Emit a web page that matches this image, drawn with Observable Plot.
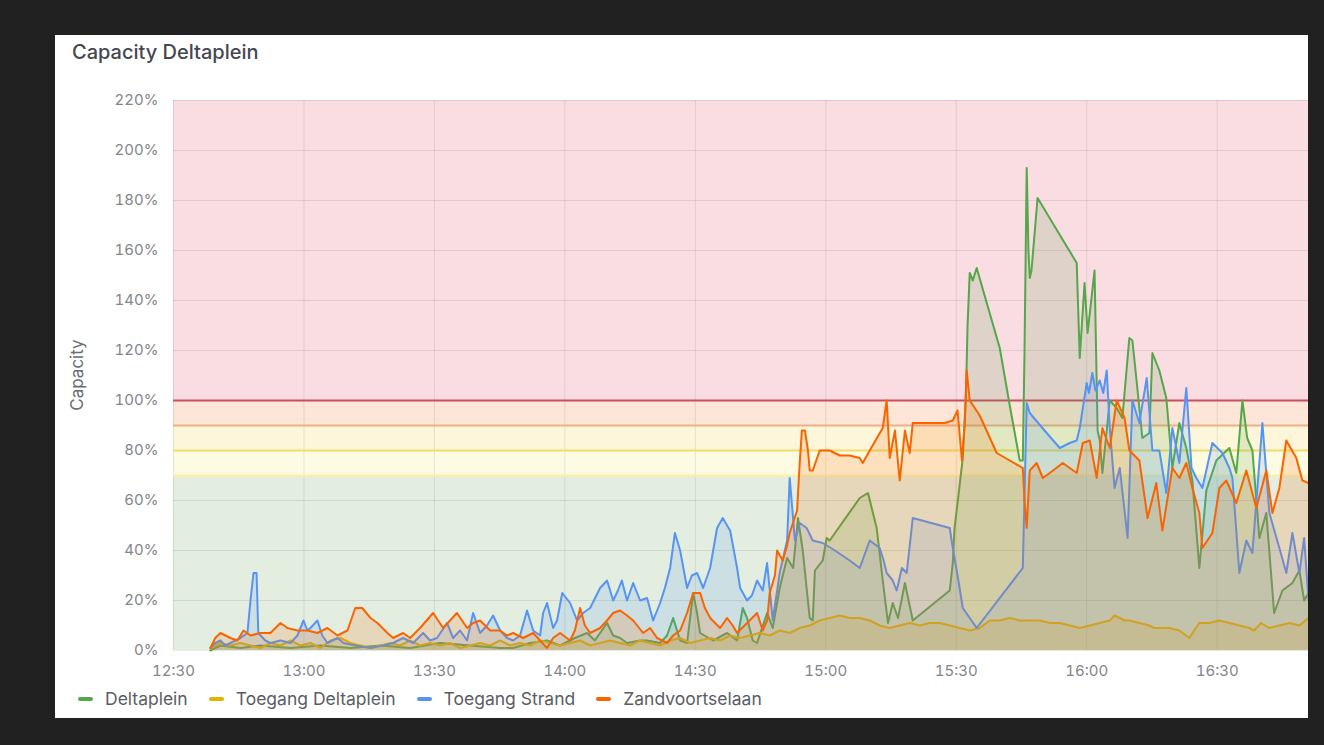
<!DOCTYPE html>
<html>
<head>
<meta charset="utf-8">
<script src="https://cdn.jsdelivr.net/npm/d3@7"></script>
<script src="https://cdn.jsdelivr.net/npm/@observablehq/plot@0.6"></script>
<style>
  html, body { margin: 0; padding: 0; width: 1324px; height: 745px; overflow: hidden; background: #212121; font-family: Inter, "Open Sans", sans-serif; }
  #panel { position: absolute; left: 55px; top: 35px; width: 1253px; height: 683px; background: #ffffff; overflow: hidden; }
  #title { position: absolute; left: 17px; top: 7px; font-size: 20px; line-height: 1; font-weight: 500; color: #45484e; white-space: nowrap; }
  #chart { position: absolute; left: 0; top: 45px; }
  #ylabel { position: absolute; left: 27px; top: 365px; width: 100px; text-align: center; font-size: 17px; line-height: 20px; color: #6b6e74; transform: rotate(-90deg); }
  #legend { position: absolute; left: 23px; top: 653px; display: flex; align-items: center; font-size: 17.5px; color: #5a5d63; white-space: nowrap; }
  .item { display: flex; align-items: center; margin-right: 21px; }
  .sw { width: 15px; height: 4px; border-radius: 2px; margin-right: 12px; }
</style>
</head>
<body>
<div id="panel">
  <div id="title">Capacity Deltaplein</div>
  <div id="chart"></div>
  <div id="legend"></div>
</div>
<div id="ylabel">Capacity</div>
<script>
// ---- data: [minutes after 12:30, capacity %] ----
const seriesNames = ["Deltaplein", "Toegang Deltaplein", "Toegang Strand", "Zandvoortselaan"];
const seriesColors = ["#56A64B", "#E0B400", "#5794F2", "#FA6400"];

const deltaplein = [[8.5,0],[10.8,2],[15.4,1],[20.0,2],[26.9,1],[33.8,2],[40.7,1],[47.6,2],[54.4,1],[61.3,3],[68.2,2],[75.1,1],[78.1,1],[82.0,3],[85.9,4],[88.9,2],[92.3,5],[95.1,7],[96.9,4],[99.7,11],[101.1,6],[102.7,5],[104.3,3],[107.3,4],[108.9,4],[111.9,3],[113.5,6],[114.9,13],[116.5,4],[118.1,3],[119.5,23],[120.4,15],[121.1,7],[124.1,4],[127.3,7],[129.6,4],[130.9,17],[131.9,13],[133.2,4],[134.2,3],[136.5,15],[137.8,9],[139.4,25],[141.1,37],[142.5,33],[143.6,53],[144.7,40],[146.3,13],[147.0,12],[147.5,32],[149.3,36],[150.2,45],[150.9,44],[157.8,61],[159.7,63],[161.7,49],[163.1,28],[164.3,11],[165.4,19],[166.6,13],[168.2,27],[170.0,12],[178.5,24],[179.2,35],[179.6,49],[180.3,59],[181.5,77],[182.2,100],[182.6,130],[183.1,151],[183.8,148],[184.7,153],[190.0,121],[192.3,98],[194.6,76],[195.3,76],[195.7,120],[196.2,193],[196.6,160],[196.9,149],[197.3,152],[198.7,181],[207.7,155],[208.4,117],[209.5,147],[210.2,127],[211.8,152],[212.5,88],[213.0,84],[213.6,71],[215.3,100],[216.9,97],[218.2,93],[219.8,125],[220.5,124],[221.4,109],[222.8,85],[224.4,87],[225.1,119],[226.7,112],[228.3,101],[229.7,73],[231.3,91],[232.9,81],[234.3,68],[235.9,33],[237.5,64],[239.8,76],[242.8,81],[244.4,71],[245.8,100],[246.9,85],[248.1,80],[249.7,45],[251.3,55],[253.1,15],[255.0,24],[257.3,27],[258.9,32],[260.0,20],[261.0,23]];

const toegangDeltaplein = [[8.5,1],[10.8,3],[13.1,2],[15.4,3],[17.7,2],[20.0,1],[22.3,3],[24.6,2],[26.9,4],[29.2,2],[31.5,3],[33.8,1],[36.1,4],[38.4,5],[40.7,3],[43.0,2],[45.3,1],[47.6,2],[49.9,3],[52.1,2],[54.4,4],[56.7,2],[59.0,3],[61.3,2],[63.6,3],[65.9,1],[68.2,2],[70.5,3],[72.8,2],[75.1,4],[77.4,2],[79.7,3],[82.0,2],[84.3,4],[86.6,3],[88.9,2],[91.2,3],[93.5,4],[95.8,2],[98.1,3],[100.4,4],[102.7,3],[105.0,2],[107.3,4],[109.6,3],[111.9,2],[114.2,4],[116.5,5],[118.8,3],[121.1,4],[123.4,5],[125.7,4],[128.0,6],[130.3,5],[132.5,6],[134.8,7],[137.1,6],[139.4,8],[141.7,7],[144.0,9],[146.3,10],[148.6,12],[150.9,13],[153.2,14],[155.5,13],[157.8,13],[160.1,12],[162.4,10],[164.7,9],[167.0,10],[169.3,11],[171.6,10],[173.9,11],[176.2,11],[178.5,10],[180.8,9],[183.1,8],[185.4,9],[187.7,12],[190.0,12],[192.3,13],[194.6,12],[196.9,12],[199.2,12],[201.5,11],[203.8,11],[206.1,10],[208.4,9],[210.7,10],[213.0,11],[215.3,12],[216.4,14],[217.6,13],[218.7,12],[219.8,12],[222.1,11],[224.4,10],[225.5,9],[229.0,9],[231.3,8],[233.6,5],[234.7,8],[235.9,11],[238.2,11],[240.5,12],[242.8,11],[245.1,10],[247.4,9],[248.5,8],[250.1,11],[251.9,9],[254.3,10],[256.6,11],[258.9,10],[261.0,13]];

const toegangStrand = [[8.5,1],[9.6,3],[10.8,4],[11.9,2],[13.1,3],[15.4,5],[17.0,7],[17.7,20],[18.4,31],[19.1,31],[19.5,7],[21.1,4],[22.3,3],[24.6,4],[26.9,3],[28.5,6],[29.9,12],[30.8,8],[31.5,9],[33.1,12],[34.2,6],[35.4,3],[37.7,5],[39.1,3],[41.8,2],[45.3,1],[48.2,2],[50.5,3],[52.8,5],[55.1,3],[57.4,7],[59.0,4],[60.6,5],[62.9,11],[64.3,5],[65.9,8],[67.5,4],[68.9,15],[70.5,7],[72.1,10],[73.5,14],[75.1,8],[76.7,5],[78.1,4],[79.7,6],[81.3,16],[82.7,8],[84.3,6],[85.0,15],[85.9,19],[87.3,9],[88.2,12],[89.4,23],[91.2,19],[92.8,12],[94.2,15],[95.8,17],[98.1,25],[99.7,28],[101.1,20],[102.2,24],[103.1,28],[104.3,20],[105.7,27],[107.3,20],[108.9,21],[110.3,12],[111.9,19],[113.0,25],[114.2,33],[115.3,47],[116.5,40],[118.1,25],[119.2,30],[120.4,31],[121.8,25],[123.4,33],[125.0,49],[126.3,53],[127.3,50],[128.0,48],[129.6,33],[130.3,25],[131.9,20],[133.0,22],[134.2,28],[135.5,24],[136.5,35],[137.8,12],[139.4,31],[141.1,44],[141.7,69],[142.9,44],[144.0,51],[145.6,49],[147.0,44],[149.3,43],[152.1,40],[155.5,36],[157.8,33],[160.1,44],[162.4,41],[163.3,36],[164.0,31],[165.4,28],[166.3,24],[167.5,33],[168.6,31],[170.0,53],[178.5,49],[179.2,41],[180.3,30],[181.5,17],[183.1,13],[184.7,9],[195.3,33],[196.2,99],[196.9,95],[200.3,88],[203.8,81],[206.1,83],[207.7,84],[208.4,89],[210.0,107],[210.5,103],[211.3,111],[212.0,104],[213.0,108],[213.8,103],[214.6,112],[215.3,89],[216.4,65],[217.6,73],[219.4,45],[220.5,100],[222.1,91],[223.8,109],[225.1,80],[226.7,80],[228.3,63],[229.7,89],[231.3,75],[232.9,105],[234.1,73],[235.2,69],[236.6,65],[238.9,83],[241.2,79],[242.8,73],[243.5,69],[245.1,31],[246.7,44],[248.1,39],[250.4,91],[252.0,55],[254.3,41],[255.9,31],[257.3,47],[258.9,31],[260.0,45],[261.0,20]];

const zandvoortselaan = [[8.5,1],[9.6,5],[10.8,7],[13.1,5],[14.7,4],[16.1,8],[17.7,6],[20.0,7],[22.3,7],[24.6,11],[26.2,9],[28.5,8],[30.8,8],[33.1,7],[35.4,9],[37.7,6],[40.0,8],[41.8,17],[43.4,17],[45.3,13],[46.9,11],[49.2,7],[50.5,5],[52.8,7],[54.4,5],[56.7,9],[59.7,15],[62.0,9],[63.6,12],[65.2,15],[67.5,9],[68.9,11],[70.5,12],[72.8,8],[75.1,8],[76.7,6],[78.1,7],[80.4,5],[82.7,7],[84.3,4],[85.9,1],[87.3,5],[88.9,7],[91.2,4],[92.3,8],[93.5,17],[94.6,10],[95.8,7],[98.1,9],[99.7,12],[101.1,15],[102.7,16],[104.3,14],[105.7,12],[108.0,7],[109.6,9],[111.2,5],[113.5,3],[114.9,6],[116.5,8],[118.1,15],[119.5,23],[121.1,23],[122.2,17],[123.4,13],[125.7,9],[127.3,13],[128.6,10],[129.6,7],[131.9,11],[134.2,15],[135.5,8],[136.5,12],[137.1,23],[138.3,30],[138.8,40],[140.1,36],[141.1,42],[141.7,47],[143.4,56],[144.0,75],[144.5,88],[145.2,88],[145.9,80],[146.3,72],[147.0,72],[148.6,80],[150.9,80],[153.2,78],[155.5,78],[157.8,77],[158.5,75],[160.1,80],[163.1,89],[164.0,100],[164.7,77],[165.9,88],[167.0,68],[168.2,88],[169.3,79],[170.0,91],[173.9,91],[177.3,91],[179.2,92],[180.3,96],[181.3,76],[181.9,90],[182.4,112],[183.1,100],[185.4,94],[189.3,79],[192.3,76],[195.3,73],[195.7,60],[196.2,49],[196.9,72],[198.5,75],[199.9,69],[201.5,71],[204.5,75],[207.7,71],[209.1,83],[210.7,84],[212.3,69],[213.6,89],[215.3,81],[216.9,100],[218.7,93],[219.8,80],[222.1,76],[224.0,53],[226.0,67],[227.4,48],[229.7,73],[231.3,69],[232.9,75],[234.3,65],[235.9,55],[236.6,41],[238.9,47],[240.5,65],[242.1,68],[244.4,59],[246.7,72],[249.0,57],[251.3,72],[252.7,55],[254.3,65],[255.9,84],[258.2,77],[259.6,68],[261.0,67]];

// threshold steps and colours
const thresholdSteps = [0, 70, 80, 90, 100, 220];
const bandColors = ["#e4eee0", "#fefbe3", "#fdf6da", "#fde5d7", "#fadde2"];
const thresholdLineValues = [70, 80, 90, 100];
const thresholdLineColors = ["#faf0a6", "#f0dc6a", "#eeaf86", "#c8505c"];

// axes
const yTickValues = [0, 20, 40, 60, 80, 100, 120, 140, 160, 180, 200, 220];
const xTickLabels = ["12:30", "13:00", "13:30", "14:00", "14:30", "15:00", "15:30", "16:00", "16:30"];
const xDomainMinutes = [0, 261];

// ---- build ----
const t0 = Date.UTC(2024, 0, 1, 12, 30);
const toDate = m => new Date(t0 + m * 60000);
const parseHM = s => { const [h, m] = s.split(":").map(Number); return new Date(Date.UTC(2024, 0, 1, h, m)); };
const xStart = toDate(xDomainMinutes[0]), xEnd = toDate(xDomainMinutes[1]);

const seriesData = [deltaplein, toegangDeltaplein, toegangStrand, zandvoortselaan];
const bands = bandColors.map((c, i) => ({lo: thresholdSteps[i], hi: thresholdSteps[i + 1], color: c, x1: xStart, x2: xEnd}));
const tLines = thresholdLineValues.map((v, i) => ({v, color: thresholdLineColors[i]}));
const xTicks = xTickLabels.map(parseHM);

const seriesMarks = seriesData.flatMap((pts, i) => {
  const rows = pts.map(([m, v]) => ({t: toDate(m), v}));
  return [
    Plot.areaY(rows, {x: "t", y: "v", fill: seriesColors[i], fillOpacity: 0.17, curve: "linear"}),
    Plot.lineY(rows, {x: "t", y: "v", stroke: seriesColors[i], strokeWidth: 2, curve: "linear"})
  ];
});

const chart = Plot.plot({
  width: 1253,
  height: 600,
  marginLeft: 118,
  marginRight: 0,
  marginTop: 20,
  marginBottom: 30,
  style: {fontFamily: "Inter, sans-serif", fontSize: "15px", color: "#82858b", background: "transparent", overflow: "visible"},
  x: {type: "utc", domain: [xStart, xEnd]},
  y: {domain: [0, 220]},
  marks: [
    Plot.rect(bands, {x1: "x1", x2: "x2", y1: "lo", y2: "hi", fill: "color"}),
    Plot.ruleX(xTicks, {stroke: "#000", strokeOpacity: 0.09}),
    Plot.ruleY(yTickValues, {stroke: "#000", strokeOpacity: 0.09}),
    Plot.ruleY(tLines, {y: "v", stroke: "color", strokeWidth: 2}),
    ...seriesMarks,
    Plot.axisX(xTicks, {tickFormat: d3.utcFormat("%H:%M"), tickSize: 0, tickPadding: 15, label: null}),
    Plot.axisY(yTickValues, {tickFormat: d => d + "%", tickSize: 0, tickPadding: 15, label: null})
  ]
});
document.getElementById("chart").appendChild(chart);

const legend = document.getElementById("legend");
seriesNames.forEach((n, i) => {
  const it = document.createElement("div");
  it.className = "item";
  const sw = document.createElement("div");
  sw.className = "sw";
  sw.style.background = seriesColors[i];
  const tx = document.createElement("span");
  tx.textContent = n;
  it.appendChild(sw); it.appendChild(tx);
  legend.appendChild(it);
});
</script>
</body>
</html>
